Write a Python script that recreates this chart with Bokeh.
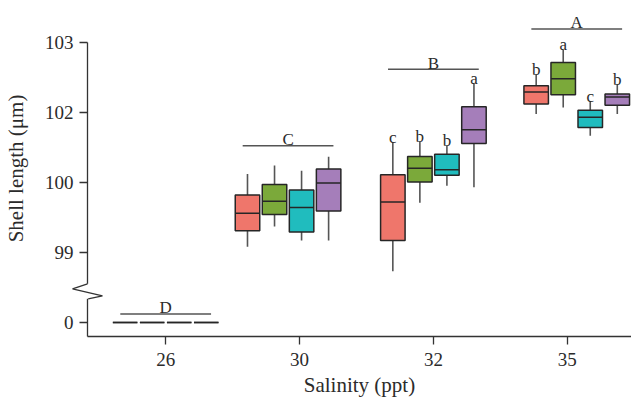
import numpy as np
from bokeh.plotting import figure
from bokeh.models import ColumnDataSource, FixedTicker, Range1d
from bokeh.core.properties import value
from bokeh.embed import file_html
from bokeh.resources import INLINE

# ---------------- data (in axis-label units) ----------------
salinity = ["26", "30", "32", "35"]
treatments = ["T1", "T2", "T3", "T4"]

t1_low = [0, 99.08, 98.73, 101.95]
t1_q1 = [0, 99.31, 99.17, 102.12]
t1_med = [0, 99.56, 99.72, 102.29]
t1_q3 = [0, 99.82, 100.22, 102.38]
t1_up = [0, 100.24, 101.14, 102.54]

t2_low = [0, 99.37, 99.71, 102.07]
t2_q1 = [0, 99.54, 100.01, 102.25]
t2_med = [0, 99.73, 100.40, 102.48]
t2_q3 = [0, 99.97, 100.74, 102.71]
t2_up = [0, 100.48, 101.16, 102.89]

t3_low = [0, 99.17, 99.95, 101.33]
t3_q1 = [0, 99.29, 100.20, 101.57]
t3_med = [0, 99.64, 100.36, 101.86]
t3_q3 = [0, 99.89, 100.80, 102.03]
t3_up = [0, 100.33, 101.04, 102.16]

t4_low = [0, 99.17, 99.93, 101.95]
t4_q1 = [0, 99.59, 101.11, 102.10]
t4_med = [0, 99.99, 101.50, 102.22]
t4_q3 = [0, 100.38, 102.08, 102.26]
t4_up = [0, 100.73, 102.41, 102.40]

t1_letters = ["", "", "c", "b"]
t2_letters = ["", "", "b", "a"]
t3_letters = ["", "", "b", "c"]
t4_letters = ["", "", "a", "b"]
group_letters = ["D", "C", "B", "A"]

y_tick_labels = [0, 99, 100, 102, 103]
# broken axis: label value -> evenly spaced axis position
axis_knots_value = [0, 98, 99, 100, 102, 103]
axis_knots_pos = [0, 0, 1, 2, 3, 4]

# ---------------- styling / layout ----------------
colors = ["#EF766B", "#7BA93A", "#20BCBE", "#A57EBA"]
FONT = "Liberation Serif"
TXT = "#2b2b2b"
BOX_LINE = "#262626"
WHISK = "#555555"
dodge = 0.202
box_w = 0.183
bracket_half = 0.339
bracket_gap_px = [8.5, 11, 14.3, 21]
group_shift_px = [0, -11.5, 0, 9.5]   # groups are slightly off their ticks in the original

W, H = 631, 404
frame_left, frame_bottom = 86, 68
y0, y1 = -0.2, 4.596
x0, x1 = 0.416, 4.48
px_per_y = (H - frame_bottom) / (y1 - y0)
px_per_x = (W - frame_left) / (x1 - x0)


def ypos(v):
    return np.interp(np.asarray(v, dtype=float), axis_knots_value, axis_knots_pos)


p = figure(width=W, height=H, x_range=Range1d(x0, x1), y_range=Range1d(y0, y1),
           output_backend="svg", toolbar_location=None,
           min_border_left=frame_left, min_border_right=0, min_border_top=0,
           min_border_bottom=frame_bottom)
p.outline_line_color = None
p.grid.visible = False
p.background_fill_color = "white"

series = [
    (t1_low, t1_q1, t1_med, t1_q3, t1_up, t1_letters),
    (t2_low, t2_q1, t2_med, t2_q3, t2_up, t2_letters),
    (t3_low, t3_q1, t3_med, t3_q3, t3_up, t3_letters),
    (t4_low, t4_q1, t4_med, t4_q3, t4_up, t4_letters),
]
ticks_x = np.arange(1, len(salinity) + 1, dtype=float)
centers = ticks_x + np.array(group_shift_px) / px_per_x
all_up = []
for j, (lo, q1, med, q3, up, let) in enumerate(series):
    x = centers + (j - 1.5) * dodge
    src = ColumnDataSource(dict(
        x=x, left=x - box_w / 2, right=x + box_w / 2,
        lo=ypos(lo), q1=ypos(q1), med=ypos(med), q3=ypos(q3), up=ypos(up),
        letter=let))
    all_up.append(ypos(up))
    p.segment(x0="x", y0="lo", x1="x", y1="q1", source=src, line_color=WHISK, line_width=1.6)
    p.segment(x0="x", y0="q3", x1="x", y1="up", source=src, line_color=WHISK, line_width=1.6)
    p.quad(left="left", right="right", bottom="q1", top="q3", source=src,
           fill_color=colors[j], line_color=BOX_LINE, line_width=1.5)
    p.segment(x0="left", y0="med", x1="right", y1="med", source=src,
              line_color=BOX_LINE, line_width=1.5)
    p.text(x="x", y="up", text="letter", source=src, y_offset=-5,
           text_align="center", text_baseline="alphabetic",
           text_font=value(FONT), text_font_size="17px", text_color=TXT)

# group brackets and letters
max_up = np.max(np.vstack(all_up), axis=0)
br_y = max_up + np.array(bracket_gap_px) / px_per_y
bsrc = ColumnDataSource(dict(x0=centers - bracket_half, x1=centers + bracket_half,
                             xc=centers, y=br_y, letter=group_letters))
p.segment(x0="x0", y0="y", x1="x1", y1="y", source=bsrc, line_color=WHISK, line_width=1.5)
p.text(x="xc", y="y", text="letter", source=bsrc, y_offset=-6,
       text_align="center", text_baseline="alphabetic",
       text_font=value(FONT), text_font_size="17px", text_color=TXT)

# axes
tick_pos = list(ypos(y_tick_labels))
p.yaxis.ticker = FixedTicker(ticks=tick_pos)
p.yaxis.major_label_overrides = {float(t): str(l) for t, l in zip(tick_pos, y_tick_labels)}
p.yaxis.bounds = (y0, 4.0)
p.xaxis.ticker = FixedTicker(ticks=list(ticks_x))
p.xaxis.major_label_overrides = {float(c): s for c, s in zip(ticks_x, salinity)}
p.xaxis.axis_label = "Salinity (ppt)"
p.yaxis.axis_label = "Shell length (\u03bcm)"
for ax in (p.xaxis, p.yaxis):
    ax.axis_line_color = "#333333"
    ax.axis_line_width = 1.3
    ax.major_tick_line_color = "#333333"
    ax.major_tick_line_width = 1.3
    ax.major_tick_out = 8
    ax.major_tick_in = 0
    ax.minor_tick_line_color = None
    ax.major_label_text_font = FONT
    ax.major_label_text_font_size = "19px"
    ax.major_label_text_color = TXT
    ax.axis_label_text_font = FONT
    ax.axis_label_text_font_size = "21px"
    ax.axis_label_text_font_style = "normal"
    ax.axis_label_text_color = TXT
p.xaxis.major_label_standoff = 8
p.xaxis.axis_label_standoff = 4
p.yaxis.major_label_standoff = 6
p.yaxis.axis_label_standoff = 14

# axis break (zigzag) drawn over the y axis line
zz_px_x = [0, -15, 15, 0.7]
zz_px_y = [38.7, 33.7, 26.7, 23.7]
gap = p.quad(left=x0 - 6 / px_per_x, right=x0 + 6 / px_per_x,
             bottom=zz_px_y[-1] / px_per_y, top=zz_px_y[0] / px_per_y,
             fill_color="white", line_color=None, level="overlay")
zz = p.line(x=[x0 + d / px_per_x for d in zz_px_x], y=[d / px_per_y for d in zz_px_y],
            line_color="#333333", line_width=1.3, level="overlay")

open("out.html", "w").write(file_html(p, INLINE))
